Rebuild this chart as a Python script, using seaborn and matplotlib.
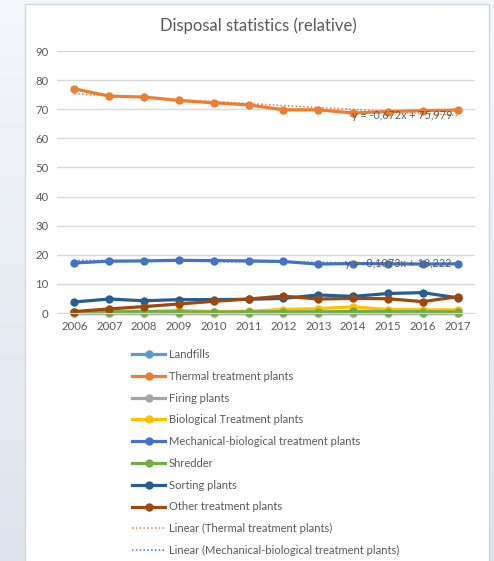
import numpy as np
import pandas as pd
import seaborn as sns
import matplotlib.pyplot as plt
from matplotlib.lines import Line2D
from matplotlib.patches import Rectangle

# data
years = ['2006', '2007', '2008', '2009', '2010', '2011',
         '2012', '2013', '2014', '2015', '2016', '2017']

landfills = [0.1, 0.1, 0.1, 0.1, 0.1, 0.1, 0.1, 0.1, 0.1, 0.1, 0.1, 0.1]
thermal = [77.0, 74.5, 74.2, 73.0, 72.2, 71.5, 69.8, 69.8, 68.7, 69.2, 69.5, 69.7]
firing = [0.1, 0.1, 0.1, 0.1, 0.1, 0.1, 0.1, 0.1, 0.1, 0.1, 0.1, 0.1]
biological = [0.3, 0.6, 0.5, 0.9, 0.5, 0.6, 1.2, 1.5, 2.1, 1.2, 1.1, 1.1]
mech_bio = [17.2, 17.8, 17.9, 18.1, 18.0, 17.9, 17.7, 16.8, 17.0, 16.9, 16.8, 16.9]
shredder = [0.2, 0.4, 0.5, 0.4, 0.3, 0.4, 0.4, 0.4, 0.6, 0.4, 0.5, 0.3]
sorting = [3.8, 4.8, 4.2, 4.6, 4.6, 4.7, 5.0, 6.2, 5.7, 6.7, 7.0, 5.2]
other = [0.5, 1.4, 2.2, 3.1, 4.0, 4.8, 5.8, 4.8, 5.0, 4.9, 3.9, 5.6]

series_names = ['Landfills', 'Thermal treatment plants', 'Firing plants',
                'Biological Treatment plants', 'Mechanical-biological treatment plants',
                'Shredder', 'Sorting plants', 'Other treatment plants']
series_values = [landfills, thermal, firing, biological, mech_bio, shredder, sorting, other]
series_colors = ['#5B9BD5', '#ED7D31', '#A5A5A5', '#FFC000',
                 '#4472C4', '#70AD47', '#255E91', '#9E480E']

# linear trend lines as labelled in the chart (x = 1..12)
trend_thermal = (-0.672, 75.979)
trend_mech = (-0.1073, 18.222)

rows = []
for name, vals in zip(series_names, series_values):
    for i, v in enumerate(vals):
        rows.append({'idx': i, 'year': years[i], 'series': name, 'value': v})
df = pd.DataFrame(rows)

txt = '#595959'
plt.rcParams['font.family'] = ['Lato', 'DejaVu Sans']

fig = plt.figure(figsize=(4.94, 5.61), dpi=100)

# light gradient background + white chart panel
bg = fig.add_axes([0, 0, 1, 1], zorder=-2)
grad = np.linspace(0, 1, 256).reshape(-1, 1)
bg.imshow(grad, aspect='auto', cmap=sns.blend_palette(['#f4f7fb', '#dde4ed'], as_cmap=True),
          extent=[0, 1, 0, 1])
bg.add_patch(Rectangle((25 / 494, -0.01), (489 - 25) / 494, 1 - 4 / 561 + 0.01,
                       facecolor='white', edgecolor='#d4d8dd', lw=1))
bg.set_xlim(0, 1)
bg.set_ylim(0, 1)
bg.axis('off')

ax = fig.add_axes([57 / 494, 1 - 313 / 561, 418 / 494, (313 - 51) / 561])
ax.set_facecolor('none')

sns.lineplot(data=df, x='idx', y='value', hue='series', hue_order=series_names,
             palette=series_colors, marker='o', markersize=6, markeredgewidth=0,
             linewidth=2.3, legend=False, sort=False, ax=ax, clip_on=False)

x = np.arange(1, len(years) + 1)
ax.plot(x - 1, trend_thermal[0] * x + trend_thermal[1], color='#ED7D31',
        lw=1.1, ls=(0, (1, 1.5)), zorder=5)
ax.plot(x - 1, trend_mech[0] * x + trend_mech[1], color='#4472C4',
        lw=1.1, ls=(0, (1, 1.5)), zorder=5)

ax.text(7.97, 67.7, 'y = -0,672x + 75,979', fontsize=7.8, color=txt, va='center', zorder=6)
ax.text(7.77, 16.9, 'y = -0,1073x + 18,222', fontsize=7.8, color=txt, va='center', zorder=6)

ax.set_xlim(-0.5, 11.5)
ax.set_ylim(0, 90)
ax.set_xticks(range(len(years)))
ax.set_xticklabels(years)
ax.set_yticks(range(0, 91, 10))
ax.yaxis.grid(True, color='#d9d9d9', lw=1)
ax.set_axisbelow(True)
for s in ['top', 'right', 'left']:
    ax.spines[s].set_visible(False)
ax.spines['bottom'].set_color('#d9d9d9')
ax.tick_params(length=0, labelsize=8.2, colors=txt, pad=6)
ax.set_xlabel('')
ax.set_ylabel('')

fig.text(258 / 494, 1 - 26 / 561, 'Disposal statistics (relative)', ha='center',
         va='center', fontsize=12, color=txt)

handles = [Line2D([], [], color=c, lw=2.3, marker='o', markersize=6, markeredgewidth=0)
           for c in series_colors]
handles.append(Line2D([], [], color='#ED7D31', lw=1.1, ls=(0, (1, 1.5))))
handles.append(Line2D([], [], color='#4472C4', lw=1.1, ls=(0, (1, 1.5))))
labels = series_names + ['Linear (Thermal treatment plants)',
                         'Linear (Mechanical-biological treatment plants)']
fig.legend(handles, labels, loc='upper left', bbox_to_anchor=(122 / 494, 1 - 339 / 561),
           frameon=False, fontsize=8, labelcolor=txt, handlelength=3.0,
           handletextpad=0.3, labelspacing=0.97)

fig.savefig('out.png', dpi=100)
